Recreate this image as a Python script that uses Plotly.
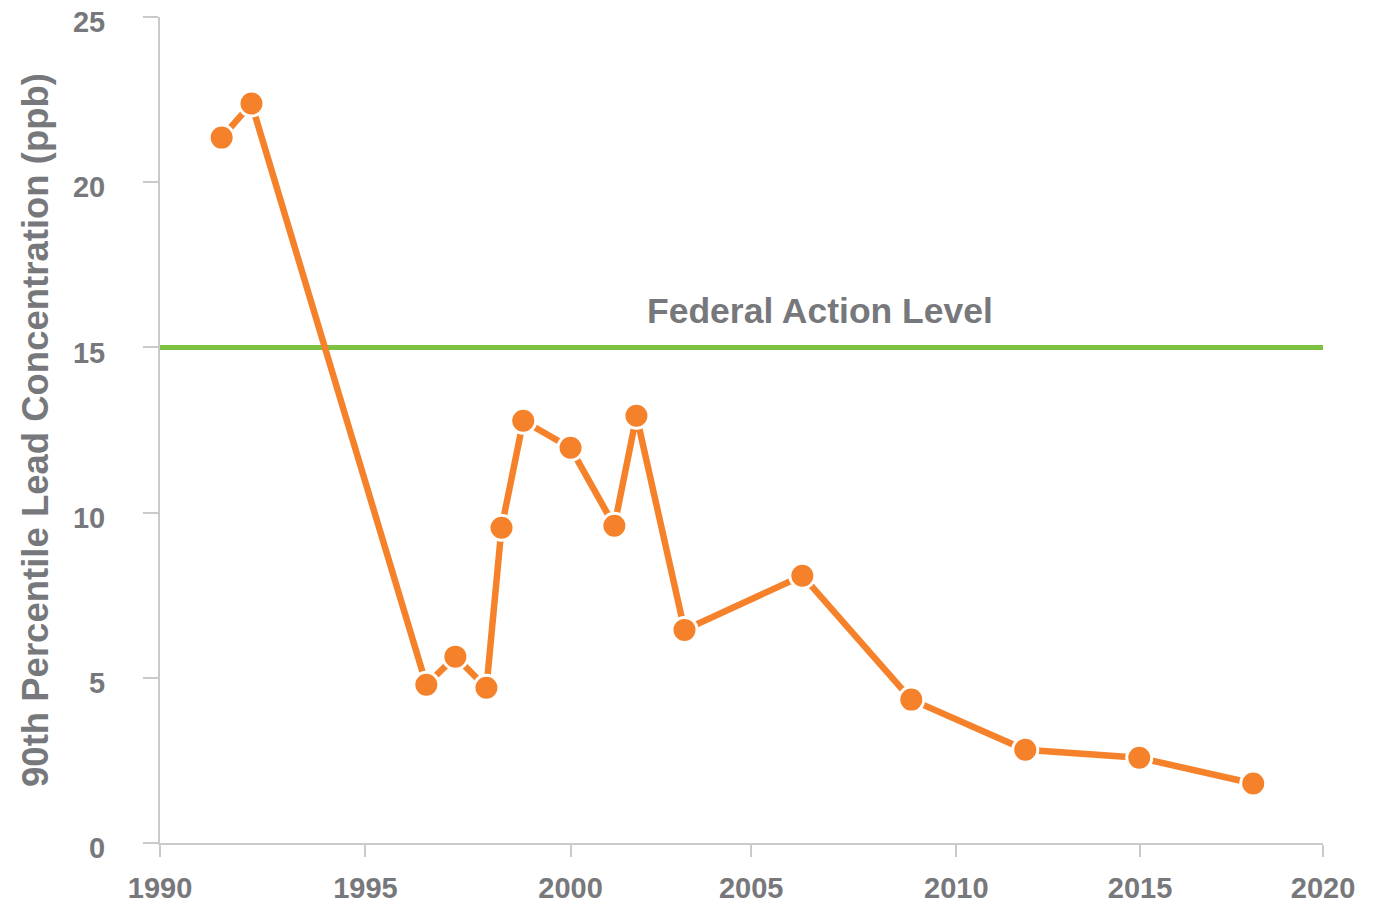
import plotly.graph_objects as go

# Sample years (as placed on the chart's axis) and 90th percentile lead (ppb)
years = [1991.59, 1992.36, 1996.87, 1997.62, 1998.42, 1998.81, 1999.37, 2000.59,
         2001.72, 2002.29, 2003.53, 2006.57, 2009.38, 2012.32, 2015.26, 2018.20]
lead_ppb = [21.35, 22.38, 4.79, 5.64, 4.70, 9.54, 12.78, 11.96,
            9.60, 12.93, 6.45, 8.09, 4.34, 2.82, 2.58, 1.80]

action_level = 15
action_label = "Federal Action Level"

x_tick_vals = [1990, 1995.30, 2000.59, 2005.25, 2010.54, 2015.28, 2020]
x_tick_text = ["1990", "1995", "2000", "2005", "2010", "2015", "2020"]
y_tick_vals = [0, 5, 10, 15, 20, 25]

ORANGE = "#F5822A"
GREEN = "#7DC142"
GRAY = "#77787B"
AXIS = "#CACACA"
FONT = "Liberation Sans"

fig = go.Figure()

fig.add_trace(go.Scatter(
    x=[1990, 2020], y=[action_level, action_level], mode="lines",
    line=dict(color=GREEN, width=5), hoverinfo="skip", showlegend=False,
))

fig.add_trace(go.Scatter(
    x=years, y=lead_ppb, mode="lines+markers",
    line=dict(color=ORANGE, width=6.5),
    marker=dict(size=25, color=ORANGE, line=dict(color="white", width=3)),
    showlegend=False, cliponaxis=False,
))

fig.add_annotation(
    x=2007.03, y=16.11, xref="x", yref="y", text=action_label, showarrow=False,
    font=dict(family=FONT, size=35.5, color=GRAY, weight="bold"),
    xanchor="center", yanchor="middle",
)

fig.update_xaxes(
    range=[1990, 2020], tickvals=x_tick_vals, ticktext=x_tick_text,
    showgrid=False, zeroline=False, showline=True, linecolor=AXIS, linewidth=2,
    ticks="outside", ticklen=12, tickwidth=2, tickcolor=AXIS,
    tickfont=dict(family=FONT, size=29, color=GRAY, weight="bold"),
    ticklabelstandoff=6, ticklabeloverflow="allow",
)
fig.update_yaxes(
    range=[0, 25], tickvals=y_tick_vals,
    showgrid=False, zeroline=False, showline=True, linecolor=AXIS, linewidth=2,
    ticks="outside", ticklen=15, tickwidth=2, tickcolor=AXIS,
    tickfont=dict(family=FONT, size=29, color=GRAY, weight="bold"),
    ticklabelstandoff=32, ticklabelshift=5, ticklabeloverflow="allow",
    title=dict(text="90th Percentile Lead Concentration (ppb)",
               font=dict(family=FONT, size=36.5, color=GRAY, weight="bold"),
               standoff=13),
)

fig.update_layout(
    width=1372, height=896,
    margin=dict(l=152, r=57, t=9, b=61, autoexpand=False),
    paper_bgcolor="white", plot_bgcolor="white",
)

fig.write_html("out.html")
